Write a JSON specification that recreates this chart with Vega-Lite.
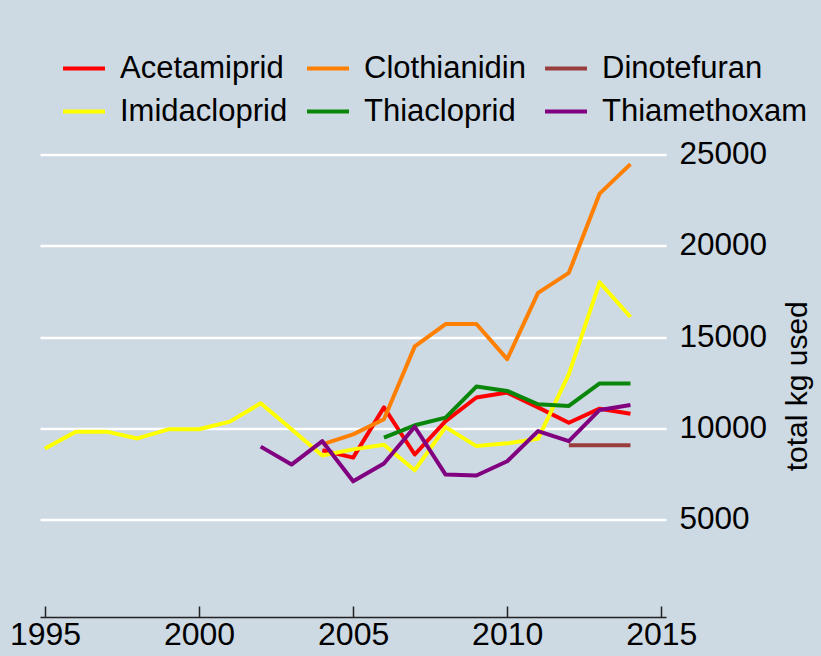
{
  "$schema": "https://vega.github.io/schema/vega-lite/v6.json",
  "width": 626,
  "height": 462.5,
  "autosize": {"type": "none"},
  "padding": {"left": 40, "top": 154.5, "right": 155, "bottom": 39},
  "background": "#cdd9e3",
  "config": {
    "view": {"stroke": null, "fill": "#cdd9e3"},
    "font": "Liberation Sans",
    "axis": {"labelColor": "#000000", "titleColor": "#000000", "labelFont": "Liberation Sans", "titleFont": "Liberation Sans"},
    "legend": {"labelColor": "#000000", "labelFont": "Liberation Sans"}
  },
  "data": {
    "values": [
      {"year": 2004, "compound": "Acetamiprid", "kg": 8800},
      {"year": 2005, "compound": "Acetamiprid", "kg": 8400},
      {"year": 2006, "compound": "Acetamiprid", "kg": 11150},
      {"year": 2007, "compound": "Acetamiprid", "kg": 8570},
      {"year": 2008, "compound": "Acetamiprid", "kg": 10400},
      {"year": 2009, "compound": "Acetamiprid", "kg": 11690},
      {"year": 2010, "compound": "Acetamiprid", "kg": 11960},
      {"year": 2011, "compound": "Acetamiprid", "kg": 11150},
      {"year": 2012, "compound": "Acetamiprid", "kg": 10310},
      {"year": 2013, "compound": "Acetamiprid", "kg": 11080},
      {"year": 2014, "compound": "Acetamiprid", "kg": 10800},

      {"year": 2004, "compound": "Clothianidin", "kg": 9120},
      {"year": 2005, "compound": "Clothianidin", "kg": 9670},
      {"year": 2006, "compound": "Clothianidin", "kg": 10500},
      {"year": 2007, "compound": "Clothianidin", "kg": 14490},
      {"year": 2008, "compound": "Clothianidin", "kg": 15716},
      {"year": 2009, "compound": "Clothianidin", "kg": 15716},
      {"year": 2010, "compound": "Clothianidin", "kg": 13790},
      {"year": 2011, "compound": "Clothianidin", "kg": 17420},
      {"year": 2012, "compound": "Clothianidin", "kg": 18520},
      {"year": 2013, "compound": "Clothianidin", "kg": 22860},
      {"year": 2014, "compound": "Clothianidin", "kg": 24470},

      {"year": 2012, "compound": "Dinotefuran", "kg": 9070},
      {"year": 2013, "compound": "Dinotefuran", "kg": 9070},
      {"year": 2014, "compound": "Dinotefuran", "kg": 9070},

      {"year": 1995, "compound": "Imidacloprid", "kg": 8900},
      {"year": 1996, "compound": "Imidacloprid", "kg": 9820},
      {"year": 1997, "compound": "Imidacloprid", "kg": 9820},
      {"year": 1998, "compound": "Imidacloprid", "kg": 9450},
      {"year": 1999, "compound": "Imidacloprid", "kg": 9946},
      {"year": 2000, "compound": "Imidacloprid", "kg": 9950},
      {"year": 2001, "compound": "Imidacloprid", "kg": 10370},
      {"year": 2002, "compound": "Imidacloprid", "kg": 11375},
      {"year": 2003, "compound": "Imidacloprid", "kg": 9950},
      {"year": 2004, "compound": "Imidacloprid", "kg": 8517},
      {"year": 2005, "compound": "Imidacloprid", "kg": 8850},
      {"year": 2006, "compound": "Imidacloprid", "kg": 9100},
      {"year": 2007, "compound": "Imidacloprid", "kg": 7710},
      {"year": 2008, "compound": "Imidacloprid", "kg": 10070},
      {"year": 2009, "compound": "Imidacloprid", "kg": 9030},
      {"year": 2010, "compound": "Imidacloprid", "kg": 9180},
      {"year": 2011, "compound": "Imidacloprid", "kg": 9430},
      {"year": 2012, "compound": "Imidacloprid", "kg": 12970},
      {"year": 2013, "compound": "Imidacloprid", "kg": 18000},
      {"year": 2014, "compound": "Imidacloprid", "kg": 16100},

      {"year": 2006, "compound": "Thiacloprid", "kg": 9490},
      {"year": 2007, "compound": "Thiacloprid", "kg": 10170},
      {"year": 2008, "compound": "Thiacloprid", "kg": 10590},
      {"year": 2009, "compound": "Thiacloprid", "kg": 12290},
      {"year": 2010, "compound": "Thiacloprid", "kg": 12050},
      {"year": 2011, "compound": "Thiacloprid", "kg": 11320},
      {"year": 2012, "compound": "Thiacloprid", "kg": 11230},
      {"year": 2013, "compound": "Thiacloprid", "kg": 12460},
      {"year": 2014, "compound": "Thiacloprid", "kg": 12460},

      {"year": 2002, "compound": "Thiamethoxam", "kg": 9000},
      {"year": 2003, "compound": "Thiamethoxam", "kg": 8020},
      {"year": 2004, "compound": "Thiamethoxam", "kg": 9300},
      {"year": 2005, "compound": "Thiamethoxam", "kg": 7100},
      {"year": 2006, "compound": "Thiamethoxam", "kg": 8080},
      {"year": 2007, "compound": "Thiamethoxam", "kg": 10090},
      {"year": 2008, "compound": "Thiamethoxam", "kg": 7470},
      {"year": 2009, "compound": "Thiamethoxam", "kg": 7420},
      {"year": 2010, "compound": "Thiamethoxam", "kg": 8200},
      {"year": 2011, "compound": "Thiamethoxam", "kg": 9850},
      {"year": 2012, "compound": "Thiamethoxam", "kg": 9300},
      {"year": 2013, "compound": "Thiamethoxam", "kg": 11010},
      {"year": 2014, "compound": "Thiamethoxam", "kg": 11280}
    ]
  },
  "mark": {"type": "line", "strokeWidth": 4, "strokeJoin": "round", "clip": false},
  "encoding": {
    "x": {
      "field": "year",
      "type": "quantitative",
      "scale": {"domain": [1994.838, 2015.153], "nice": false, "zero": false},
      "axis": {
        "title": null,
        "values": [1995, 2000, 2005, 2010, 2015],
        "format": "d",
        "grid": false,
        "domainColor": "#222222",
        "domainWidth": 1.5,
        "tickColor": "#222222",
        "tickWidth": 1.5,
        "tickSize": -11,
        "labelPadding": 13,
        "labelFontSize": 32,
        "labelFlush": false,
        "labelOverlap": false
      }
    },
    "y": {
      "field": "kg",
      "type": "quantitative",
      "scale": {"domain": [-330, 25000], "nice": false, "zero": false},
      "axis": {
        "orient": "right",
        "title": "total kg used",
        "titleFontSize": 30,
        "titleFontWeight": "normal",
        "titleAngle": 270,
        "titlePadding": 46,
        "values": [5000, 10000, 15000, 20000, 25000],
        "format": "d",
        "domain": false,
        "ticks": false,
        "grid": true,
        "gridColor": "#ffffff",
        "gridWidth": 2.5,
        "gridOpacity": 1,
        "labelPadding": 13,
        "labelFontSize": 31.5,
        "labelFlush": false,
        "labelOverlap": false
      }
    },
    "color": {
      "field": "compound",
      "type": "nominal",
      "scale": {
        "domain": ["Acetamiprid", "Clothianidin", "Dinotefuran", "Imidacloprid", "Thiacloprid", "Thiamethoxam"],
        "range": ["#ff0000", "#ff8000", "#993d3d", "#ffff00", "#0a870a", "#800080"]
      },
      "legend": {
        "title": null,
        "orient": "none",
        "legendX": 21,
        "legendY": -109,
        "columns": 3,
        "direction": "horizontal",
        "symbolType": "stroke",
        "symbolSize": 1764,
        "symbolStrokeWidth": 4,
        "labelFontSize": 31,
        "labelLimit": 400,
        "labelOffset": 13,
        "columnPadding": 11,
        "rowPadding": 5,
        "padding": 0
      }
    }
  }
}
